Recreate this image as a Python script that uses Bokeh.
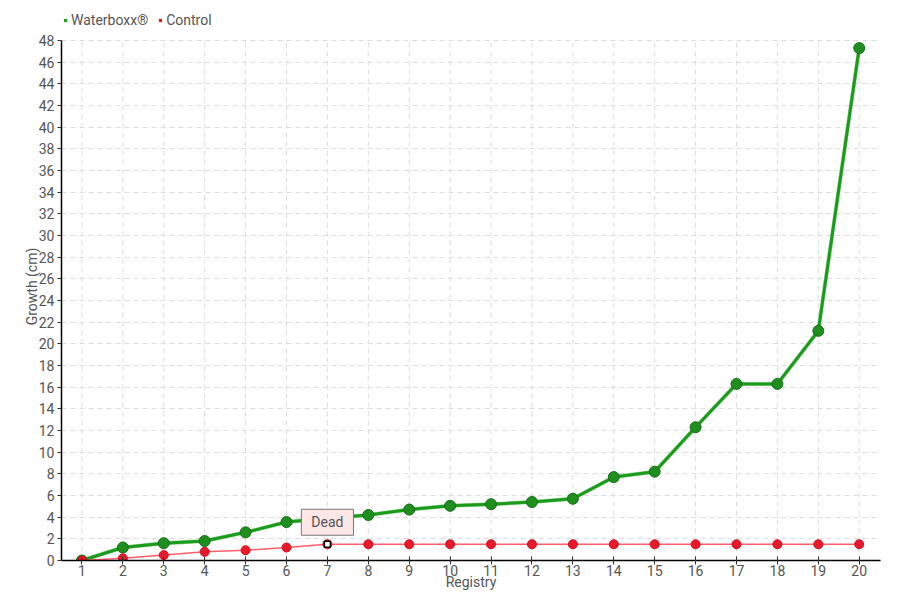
from bokeh.plotting import figure
from bokeh.models import (ColumnDataSource, FixedTicker, Legend, LegendItem, Label,
                          Range1d)
from bokeh.embed import file_html
from bokeh.resources import INLINE

registry = list(range(1, 21))
waterboxx = [0, 1.2, 1.6, 1.8, 2.6, 3.55, 3.9, 4.2, 4.7, 5.05, 5.2, 5.4, 5.7,
             7.7, 8.2, 12.3, 16.3, 16.3, 21.2, 47.3]
control = [0, 0.2, 0.5, 0.8, 0.95, 1.2, 1.5, 1.5, 1.5, 1.5, 1.5, 1.5, 1.5,
           1.5, 1.5, 1.5, 1.5, 1.5, 1.5, 1.5]
y_ticks = list(range(0, 49, 2))
y_max = 48
dead_index = 6
dead_text = "Dead"

FONT = "Roboto"
TXT = "#555555"

# frame spans y 12..560 px; values 0..48 occupy the lower 520 px,
# the strip above holds the legend
TOP = 12
PLOT_H = 520
y_end = y_max * (PLOT_H + 28) / PLOT_H

p = figure(width=900, height=600, output_backend="svg", toolbar_location=None,
           x_range=Range1d(0.5, 20.52), y_range=Range1d(0, y_end),
           min_border_left=61, min_border_right=20, min_border_top=TOP,
           min_border_bottom=40)
p.outline_line_color = None
p.background_fill_color = "white"

src = ColumnDataSource(dict(x=registry, w=waterboxx, c=control,
                            y0=[0] * len(registry), y1=[y_max] * len(registry)))

# vertical grid lines limited to the value range
p.segment("x", "y0", "x", "y1", source=src, line_color="#dddddd",
          line_dash="5 4", line_width=1, level="underlay")

# square swatches for the legend (hidden beneath the first point)
lg_w = p.scatter([registry[0]], [waterboxx[0]], marker="square", size=7,
                 fill_color="#1ea01e", line_color=None)
lg_c = p.scatter([registry[0]], [control[0]], marker="square", size=7,
                 fill_color="#f0102a", line_color=None)

gl_shadow = p.line("x", "w", source=src, line_color="#9ad89a", line_width=4)
gl = p.line("x", "w", source=src, line_color="#1c9a1c", line_width=3)
gm = p.scatter("x", "w", source=src, size=11, fill_color="#1e8f1e",
               line_color="#176d17", line_width=1)
rl = p.line("x", "c", source=src, line_color="#ff5c6c", line_width=1.5)
rm = p.scatter("x", "c", source=src, size=9, fill_color="#e8192c",
               line_color="#d0101f", line_width=1)
p.scatter([registry[dead_index]], [control[dead_index]], marker="square", size=6,
          fill_color="white", line_color="black", line_width=1.5)

lab = Label(x=registry[dead_index], y=control[dead_index], text=dead_text,
            x_offset=0, y_offset=9, text_align="center", text_baseline="bottom",
            text_font=FONT, text_font_size="14px", text_color=TXT,
            background_fill_color="#fde6e6", border_line_color="#777777",
            border_line_width=1,
            padding=dict(left=10, right=10, top=5, bottom=5))
p.add_layout(lab)

# axes
p.xaxis.ticker = FixedTicker(ticks=registry)
p.yaxis.ticker = FixedTicker(ticks=y_ticks)
p.yaxis.bounds = (0, y_max)
for ax in (p.xaxis, p.yaxis):
    ax.axis_line_color = "black"
    ax.axis_line_width = 1.5
    ax.major_tick_line_color = "#333333"
    ax.minor_tick_line_color = None
    ax.major_label_text_font = FONT
    ax.major_label_text_font_size = "14px"
    ax.major_label_text_color = TXT
    ax.axis_label_text_font = FONT
    ax.axis_label_text_font_size = "14px"
    ax.axis_label_text_color = TXT
    ax.axis_label_text_font_style = "normal"
p.xaxis.major_tick_in = 4
p.xaxis.major_tick_out = 4
p.xaxis.major_label_standoff = 0
p.yaxis.major_tick_in = 0
p.yaxis.major_tick_out = 4
p.yaxis.major_label_standoff = 3
p.xaxis.axis_label = "Registry"
p.xaxis.axis_label_standoff = -5
p.yaxis.axis_label = "Growth (cm)"
p.yaxis.axis_label_standoff = -4

p.xgrid.visible = False
p.ygrid.grid_line_color = "#dddddd"
p.ygrid.grid_line_dash = "5 4"
p.ygrid.grid_line_width = 1

legend = Legend(items=[LegendItem(label="Waterboxx®", renderers=[lg_w]),
                       LegendItem(label="Control", renderers=[lg_c])],
                orientation="horizontal", location="top_left",
                label_text_font=FONT, label_text_font_size="14px",
                label_text_color=TXT, glyph_width=8, glyph_height=8,
                label_standoff=2, spacing=8, padding=1, margin=0,
                label_height=16,
                border_line_color=None, background_fill_alpha=0)
p.add_layout(legend, "center")

open("out.html", "w").write(file_html(p, INLINE))
